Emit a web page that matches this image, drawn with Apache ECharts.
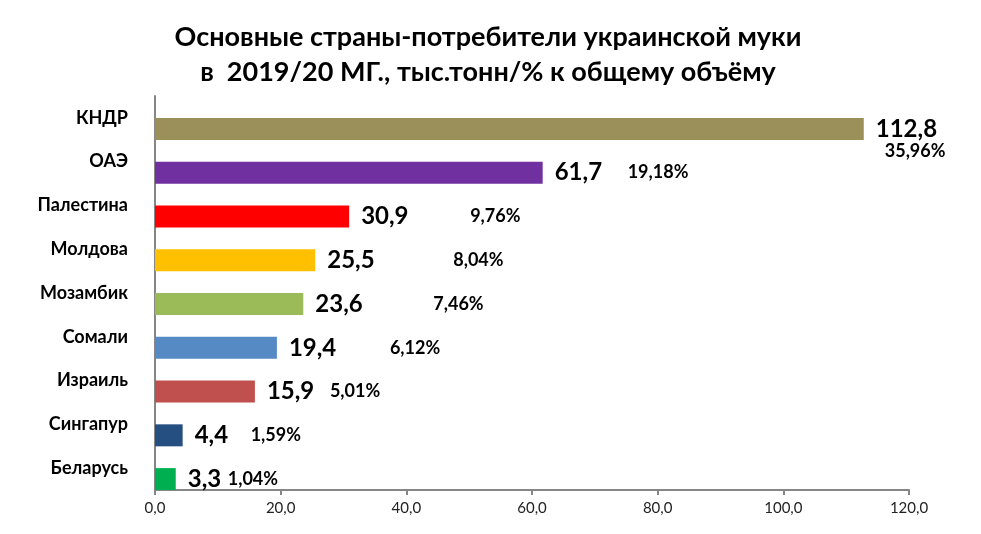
<!DOCTYPE html>
<html>
<head>
<meta charset="utf-8">
<script src="https://cdn.jsdelivr.net/npm/echarts@6/dist/echarts.min.js"></script>
<style>
    html, body {margin: 0; padding: 0; background: #fff;}
    #chart {width: 981px; height: 534px;}
</style>
</head>
<body>
<div id="chart"></div>
<script>
// страны (сверху вниз)
var countries = ["КНДР", "ОАЭ", "Палестина", "Молдова", "Мозамбик", "Сомали", "Израиль", "Сингапур", "Беларусь"];
// тыс. тонн
var volumes = [112.8, 61.7, 30.9, 25.5, 23.6, 19.4, 15.9, 4.4, 3.3];
// доля, %
var shares = ["35,96%", "19,18%", "9,76%", "8,04%", "7,46%", "6,12%", "5,01%", "1,59%", "1,04%"];
var barColors = ["#9b8f5a", "#7030a0", "#ff0000", "#ffc000", "#9bbb59", "#558ac5", "#c0504d", "#254f80", "#00b050"];
// смещение подписей процентов от конца столбца
var shareOffsets = [[21, 44], [85, 22], [121, 22], [138, 22], [130, 22], [113, 22], [75, 22], [68, 22], [52, 22]];

var font = "Lato, 'Open Sans', sans-serif";

function fmt(v) {
    return v.toFixed(1).replace(".", ",");
}

var chart = echarts.init(document.getElementById("chart"));

var mainData = [];
var shareData = [];
for (var i = 0; i < volumes.length; i++) {
    mainData.push({value: volumes[i], itemStyle: {color: barColors[i]}});
    shareData.push({
        value: volumes[i],
        label: {offset: shareOffsets[i], formatter: shares[i]}
    });
}

var option = {
    animation: false,
    title: {
        text: "Основные страны-потребители украинской муки\nв  2019/20 МГ., тыс.тонн/% к общему объёму",
        left: 483,
        top: 15,
        textAlign: "center",
        textStyle: {fontFamily: font, fontWeight: "bold", fontSize: 27, lineHeight: 35, color: "#000"}
    },
    grid: {left: 155, right: 72, top: 96, bottom: 44},
    xAxis: {
        type: "value",
        min: 0,
        max: 120,
        interval: 20,
        axisLine: {show: true, lineStyle: {color: "#868686", width: 2}},
        axisTick: {show: true, length: 5, lineStyle: {color: "#868686", width: 2}},
        splitLine: {show: false},
        axisLabel: {fontFamily: font, fontSize: 15, color: "#222", margin: 11, formatter: fmt}
    },
    yAxis: {
        type: "category",
        inverse: true,
        data: countries,
        axisLine: {lineStyle: {color: "#868686", width: 2}},
        axisTick: {length: 5, lineStyle: {color: "#868686", width: 2}},
        axisLabel: {fontFamily: font, fontWeight: "bold", fontSize: 18, color: "#000", margin: 27}
    },
    series: [
        {
            // подписи процентов (прозрачная серия)
            type: "bar",
            data: shareData,
            barWidth: 22,
            barGap: "0%",
            itemStyle: {color: "rgba(0,0,0,0)"},
            silent: true,
            label: {
                show: true,
                position: "right",
                distance: 0,
                fontFamily: font,
                fontWeight: "bold",
                fontSize: 18,
                color: "#000"
            }
        },
        {
            type: "bar",
            data: mainData,
            barWidth: 22,
            label: {
                show: true,
                position: "right",
                distance: 12,
                fontFamily: font,
                fontWeight: "bold",
                fontSize: 24,
                color: "#000",
                formatter: function (p) {
                    return fmt(p.value);
                }
            }
        }
    ]
};

chart.setOption(option);
</script>
</body>
</html>
